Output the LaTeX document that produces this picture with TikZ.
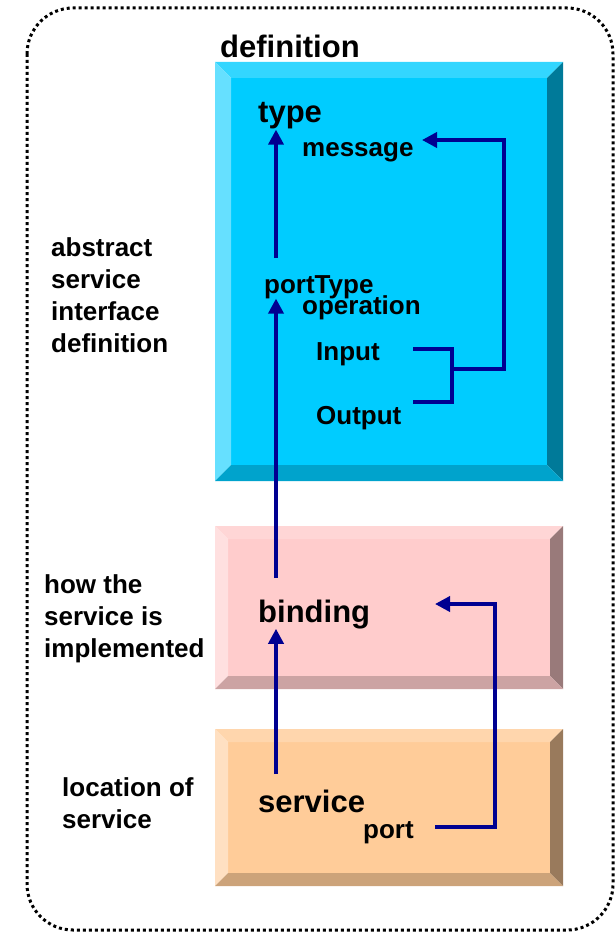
\documentclass[tikz,border=0pt]{standalone}
\usepackage{fontspec}
\setmainfont{Liberation Sans}
\usetikzlibrary{arrows.meta}
\definecolor{navy}{RGB}{0,0,145}
\definecolor{bluface}{HTML}{00CCFF}
\definecolor{blutop}{HTML}{33D6FF}
\definecolor{bluleft}{HTML}{66E0FF}
\definecolor{bluright}{HTML}{007A99}
\definecolor{blubottom}{HTML}{00A3CC}
\definecolor{pnkface}{HTML}{FFCCCC}
\definecolor{pnktop}{HTML}{FFD6D6}
\definecolor{pnkleft}{HTML}{FFE0E0}
\definecolor{pnkright}{HTML}{997A7A}
\definecolor{pnkbottom}{HTML}{CCA3A3}
\definecolor{orgface}{HTML}{FFCC99}
\definecolor{orgtop}{HTML}{FFD6AD}
\definecolor{orgleft}{HTML}{FFE0C2}
\definecolor{orgright}{HTML}{997A5C}
\definecolor{orgbottom}{HTML}{CCA37A}
\newcommand{\bvbox}[6]{%
  \fill[#6face] (#1+#5,#2+#5) rectangle (#3-#5,#4-#5);
  \fill[#6top] (#1,#2) -- (#3,#2) -- (#3-#5,#2+#5) -- (#1+#5,#2+#5) -- cycle;
  \fill[#6left] (#1,#2) -- (#1+#5,#2+#5) -- (#1+#5,#4-#5) -- (#1,#4) -- cycle;
  \fill[#6right] (#3,#2) -- (#3,#4) -- (#3-#5,#4-#5) -- (#3-#5,#2+#5) -- cycle;
  \fill[#6bottom] (#1,#4) -- (#1+#5,#4-#5) -- (#3-#5,#4-#5) -- (#3,#4) -- cycle;
}
\tikzset{
  lbl/.style={anchor=base west, inner sep=0pt, font=\bfseries\fontsize{26}{32}\selectfont},
  big/.style={anchor=base west, inner sep=0pt, font=\bfseries\fontsize{31}{36}\selectfont},
  side/.style={anchor=base west, inner sep=0pt, align=left, font=\bfseries\fontsize{26}{32}\selectfont},
  conn/.style={draw=navy, line width=3.6pt},
  arr/.style={conn, -{Triangle[length=15pt,width=15pt]}},
}
\begin{document}
\begin{tikzpicture}[x=1pt,y=-1pt]
\useasboundingbox (0,0) rectangle (615,936);
% outer dotted frame
\draw[line width=3pt, dash pattern=on 3pt off 3pt, rounded corners=46pt] (27,8) rectangle (613,930);
% boxes
\bvbox{215}{62}{563}{481}{16}{blu}
\bvbox{215}{526}{563}{689}{13}{pnk}
\bvbox{215}{729}{563}{886}{13}{org}
% titles
\node[big] (definition) at (220,58) {definition};
\node[big] (type) at (258,123) {type};
\node[lbl] (message) at (302,157) {message};
\node[lbl] (portType) at (264,293) {portType};
\node[lbl] (operation) at (302,314) {operation};
\node[lbl] (input) at (316,360) {Input};
\node[lbl] (output) at (316,424) {Output};
\node[big] (binding) at (258,622) {binding};
\node[big] (service) at (258,812) {service};
\node[lbl] (port) at (363,838) {port};
% side labels (anchored at the baseline of their last line)
\node[side] (abstract) at (51,352) {abstract\\service\\interface\\definition};
\node[side] (how) at (44,657) {how the\\service is\\implemented};
\node[side] (location) at (62,828) {location of\\service};
% connector coordinates
\coordinate (a1s) at (276,258);
\coordinate (a2s) at (276,578);
\coordinate (a3s) at (276,774);
\coordinate (inR) at (413,349);
\coordinate (outR) at (413,402);
\coordinate (brk) at (452,369);
\coordinate (msgcorner) at (504,140);
\coordinate (msgtip) at (422,140);
\coordinate (portS) at (435,827);
\coordinate (portcorner) at (495,604);
\coordinate (bindtip) at (435,604);
% connectors
\draw[arr] (a1s) -- (a1s |- type.south);
\draw[arr] (a2s) -- (a2s |- portType.south);
\draw[arr] (a3s) -- (a3s |- binding.south);
\draw[conn] (inR) -- (inR -| brk) -- (outR -| brk) -- (outR);
\draw[arr] (brk) -- (brk -| msgcorner) -- (msgcorner) -- (msgtip);
\draw[arr] (portS) -- (portS -| portcorner) -- (portcorner) -- (bindtip);
\end{tikzpicture}
\end{document}
